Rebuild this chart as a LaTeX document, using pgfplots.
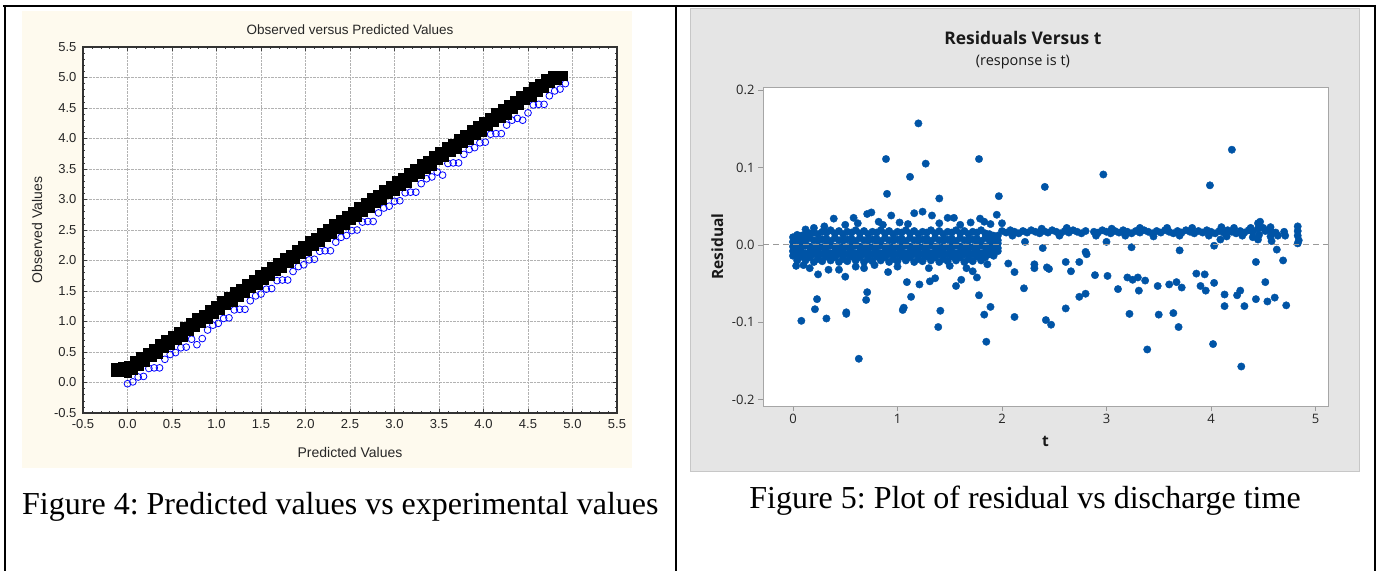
\documentclass[border=0pt]{standalone}
\usepackage{fontspec}
\usepackage{pgfplots}
\usepackage{pgfplotstable}
\pgfplotsset{compat=1.18}
\setmainfont{Liberation Serif}
\newfontfamily\arialf{Liberation Sans}
\newfontfamily\segoe{Open Sans}
\definecolor{cream}{RGB}{254,250,238}
\definecolor{mgray}{RGB}{229,229,229}
\definecolor{mblue}{RGB}{0,84,166}
\frenchspacing

% Left chart: black band (predicted, observed)
\pgfplotstableread{
x a b c
-0.14 0.16 0.21 0.26
-0.07 0.16 0.21 0.27
0.00 0.15 0.22 0.29
0.07 0.19 0.28 0.37
0.14 0.26 0.35 0.44
0.21 0.32 0.41 0.50
0.28 0.40 0.49 0.58
0.35 0.46 0.56 0.66
0.42 0.55 0.63 0.72
0.49 0.60 0.70 0.79
0.56 0.69 0.77 0.85
0.63 0.74 0.84 0.94
0.70 0.83 0.91 1.00
0.77 0.89 0.98 1.08
0.84 0.97 1.05 1.13
0.91 1.02 1.12 1.21
0.98 1.11 1.19 1.28
1.05 1.17 1.26 1.36
1.12 1.25 1.33 1.42
1.19 1.30 1.40 1.50
1.26 1.39 1.47 1.56
1.33 1.45 1.54 1.64
1.40 1.53 1.61 1.70
1.47 1.58 1.68 1.78
1.54 1.67 1.75 1.84
1.61 1.73 1.82 1.92
1.68 1.81 1.89 1.98
1.75 1.86 1.96 2.06
1.82 1.95 2.03 2.12
1.89 2.01 2.10 2.20
1.96 2.09 2.17 2.26
2.03 2.14 2.24 2.34
2.10 2.23 2.31 2.40
2.17 2.29 2.38 2.48
2.24 2.37 2.45 2.54
2.31 2.42 2.52 2.62
2.38 2.51 2.59 2.68
2.45 2.57 2.66 2.76
2.52 2.65 2.73 2.82
2.59 2.70 2.80 2.90
2.66 2.79 2.87 2.96
2.73 2.85 2.94 3.04
2.80 2.93 3.01 3.10
2.87 2.98 3.08 3.18
2.94 3.07 3.15 3.24
3.01 3.13 3.22 3.32
3.08 3.21 3.29 3.38
3.15 3.26 3.36 3.46
3.22 3.35 3.43 3.52
3.29 3.41 3.50 3.60
3.36 3.49 3.57 3.66
3.43 3.54 3.64 3.74
3.50 3.63 3.71 3.80
3.57 3.69 3.78 3.88
3.64 3.77 3.85 3.94
3.71 3.82 3.92 4.02
3.78 3.91 3.99 4.08
3.85 3.97 4.06 4.16
3.92 4.05 4.13 4.22
3.99 4.10 4.20 4.30
4.06 4.19 4.27 4.36
4.13 4.25 4.34 4.44
4.20 4.33 4.41 4.50
4.27 4.38 4.48 4.58
4.34 4.47 4.55 4.64
4.41 4.53 4.62 4.72
4.48 4.61 4.69 4.78
4.55 4.66 4.76 4.86
4.62 4.75 4.83 4.92
4.69 4.81 4.90 5.00
4.76 4.89 4.97 5.05
4.83 4.95 5.03 5.05
4.90 5.01 5.05 5.05
}\obsblack

% Left chart: blue circles
\pgfplotstableread{
x y
0.00 -0.02
0.06 0.01
0.12 0.09
0.18 0.10
0.24 0.23
0.30 0.24
0.36 0.24
0.42 0.38
0.48 0.46
0.54 0.49
0.60 0.57
0.66 0.58
0.72 0.71
0.78 0.62
0.84 0.72
0.90 0.86
0.96 0.94
1.02 0.97
1.08 1.05
1.14 1.06
1.20 1.19
1.26 1.20
1.32 1.20
1.38 1.34
1.44 1.42
1.50 1.45
1.56 1.53
1.62 1.54
1.68 1.67
1.74 1.68
1.80 1.68
1.86 1.82
1.92 1.90
1.98 1.93
2.04 2.01
2.10 2.02
2.16 2.15
2.22 2.16
2.28 2.16
2.34 2.30
2.40 2.38
2.46 2.41
2.52 2.49
2.58 2.50
2.64 2.63
2.70 2.64
2.76 2.64
2.82 2.78
2.88 2.86
2.94 2.89
3.00 2.97
3.06 2.98
3.12 3.11
3.18 3.12
3.24 3.12
3.30 3.26
3.36 3.34
3.42 3.37
3.48 3.45
3.54 3.40
3.60 3.59
3.66 3.60
3.72 3.60
3.78 3.74
3.84 3.82
3.90 3.85
3.96 3.93
4.02 3.94
4.08 4.07
4.14 4.08
4.20 4.08
4.26 4.22
4.32 4.30
4.38 4.33
4.44 4.30
4.50 4.42
4.56 4.55
4.62 4.56
4.68 4.56
4.74 4.70
4.80 4.78
4.86 4.81
4.92 4.90
}\obsblue

% Right chart: dense band t < 2
\pgfplotstableread{
t a b c d e
0.00 -0.014 -0.008 -0.002 0.004 0.010
0.04 -0.020 -0.011 -0.003 0.006 0.013
0.08 -0.015 -0.008 0.000 0.008 0.012
0.12 -0.020 -0.011 -0.001 0.005 0.014
0.16 -0.016 -0.009 -0.002 0.009 0.015
0.20 -0.022 -0.012 -0.004 0.006 0.016
0.24 -0.018 -0.010 -0.002 0.006 0.014
0.28 -0.021 -0.012 -0.003 0.007 0.017
0.32 -0.015 -0.008 0.000 0.008 0.016
0.36 -0.020 -0.011 -0.001 0.005 0.019
0.40 -0.016 -0.009 -0.002 0.009 0.015
0.44 -0.022 -0.012 -0.004 0.006 0.018
0.48 -0.018 -0.010 -0.002 0.006 0.014
0.52 -0.021 -0.012 -0.003 0.007 0.017
0.56 -0.015 -0.008 0.000 0.008 0.016
0.60 -0.020 -0.011 -0.001 0.005 0.019
0.64 -0.016 -0.009 -0.002 0.009 0.015
0.68 -0.022 -0.012 -0.004 0.006 0.018
0.72 -0.018 -0.010 -0.002 0.006 0.014
0.76 -0.021 -0.012 -0.003 0.007 0.017
0.80 -0.015 -0.008 0.000 0.008 0.016
0.84 -0.020 -0.011 -0.001 0.005 0.019
0.88 -0.016 -0.009 -0.002 0.009 0.015
0.92 -0.022 -0.012 -0.004 0.006 0.018
0.96 -0.018 -0.010 -0.002 0.006 0.014
1.00 -0.021 -0.012 -0.003 0.007 0.017
1.04 -0.015 -0.008 0.000 0.008 0.016
1.08 -0.020 -0.011 -0.001 0.005 0.019
1.12 -0.016 -0.009 -0.002 0.009 0.015
1.16 -0.022 -0.012 -0.004 0.006 0.018
1.20 -0.018 -0.010 -0.002 0.006 0.014
1.24 -0.021 -0.012 -0.003 0.007 0.017
1.28 -0.015 -0.008 0.000 0.008 0.016
1.32 -0.020 -0.011 -0.001 0.005 0.019
1.36 -0.016 -0.009 -0.002 0.009 0.015
1.40 -0.022 -0.012 -0.004 0.006 0.018
1.44 -0.018 -0.010 -0.002 0.006 0.014
1.48 -0.021 -0.012 -0.003 0.007 0.017
1.52 -0.015 -0.008 0.000 0.008 0.016
1.56 -0.020 -0.011 -0.001 0.005 0.019
1.60 -0.016 -0.009 -0.002 0.009 0.015
1.64 -0.022 -0.012 -0.004 0.006 0.018
1.68 -0.018 -0.010 -0.002 0.006 0.014
1.72 -0.021 -0.012 -0.003 0.007 0.017
1.76 -0.015 -0.008 0.000 0.008 0.016
1.80 -0.020 -0.011 -0.001 0.005 0.019
1.84 -0.016 -0.009 -0.002 0.009 0.015
1.88 -0.012 -0.006 -0.002 0.006 0.014
1.92 -0.014 -0.008 0.000 0.008 0.012
1.96 -0.008 -0.004 0.002 0.006 0.012
}\resband

% Right chart: band t >= 2 and scattered residuals
\pgfplotstableread{
t r
2.00 0.018
2.04 0.016
2.08 0.019
2.12 0.017
2.16 0.015
2.20 0.018
2.24 0.016
2.28 0.019
2.32 0.017
2.36 0.015
2.40 0.018
2.44 0.016
2.48 0.019
2.52 0.017
2.56 0.015
2.60 0.018
2.64 0.016
2.68 0.019
2.72 0.017
2.76 0.015
2.80 0.018
2.88 0.017
2.92 0.016
2.96 0.019
3.00 0.017
3.04 0.015
3.08 0.018
3.12 0.016
3.16 0.019
3.20 0.017
3.24 0.015
3.28 0.018
3.32 0.016
3.36 0.019
3.40 0.017
3.44 0.015
3.48 0.018
3.52 0.016
3.56 0.019
3.60 0.017
3.64 0.015
3.68 0.018
3.72 0.016
3.76 0.019
3.80 0.017
3.84 0.015
3.88 0.018
3.92 0.016
3.96 0.019
4.00 0.017
4.04 0.015
4.08 0.018
4.12 0.016
4.16 0.019
4.20 0.017
4.24 0.015
4.28 0.018
4.32 0.016
4.36 0.019
4.40 0.017
2.10 0.012
2.38 0.021
2.55 0.012
2.62 0.022
2.90 0.012
3.05 0.021
3.18 0.012
3.32 0.022
3.45 0.011
3.58 0.022
3.70 0.012
3.82 0.022
3.98 0.012
4.10 0.023
4.15 0.011
4.22 0.022
4.30 0.012
4.38 0.022
4.40 0.010
4.45 0.028
4.45 0.021
4.46 0.013
4.45 0.007
4.47 0.030
4.50 0.022
4.52 0.018
4.57 0.023
4.58 0.017
4.57 0.011
4.58 0.005
4.62 0.016
4.64 0.012
4.70 0.017
4.71 0.012
4.83 0.024
4.83 0.018
4.83 0.012
4.84 0.006
4.83 0.002
0.30 0.024
0.39 0.034
0.58 0.035
0.71 0.040
0.75 0.042
0.94 0.038
1.16 0.041
1.24 0.043
1.33 0.038
1.48 0.035
1.54 0.035
1.79 0.034
1.95 0.039
1.89 0.027
2.00 0.028
0.50 0.026
0.62 0.028
0.82 0.030
0.86 0.026
1.02 0.029
1.10 0.027
1.40 0.028
1.60 0.026
1.70 0.029
1.83 0.030
0.20 0.022
0.12 0.020
0.03 -0.027
0.10 -0.026
0.24 -0.038
0.34 -0.032
0.44 -0.032
0.50 -0.041
0.60 -0.028
0.78 -0.026
0.91 -0.035
1.00 -0.028
1.09 -0.048
1.21 -0.051
1.31 -0.047
1.36 -0.043
1.50 -0.027
1.56 -0.053
1.61 -0.045
1.72 -0.034
1.76 -0.042
1.66 -0.030
1.86 -0.025
1.30 -0.030
0.68 -0.030
0.16 -0.030
0.08 -0.098
0.23 -0.070
0.21 -0.083
0.32 -0.095
0.51 -0.087
0.51 -0.089
0.63 -0.147
0.71 -0.061
0.70 -0.071
1.13 -0.067
1.05 -0.084
1.06 -0.081
1.41 -0.085
1.39 -0.106
1.78 -0.065
1.83 -0.090
1.89 -0.080
1.85 -0.125
2.06 -0.024
2.12 -0.035
2.21 -0.056
2.12 -0.093
2.31 -0.025
2.31 -0.030
2.22 0.004
2.39 -0.004
2.43 -0.029
2.45 -0.031
2.42 -0.097
2.47 -0.103
2.61 -0.022
2.66 -0.034
2.61 -0.082
2.74 -0.022
2.74 -0.067
2.80 -0.063
2.80 -0.009
2.81 -0.012
2.89 -0.039
3.00 0.004
3.01 -0.040
3.11 -0.057
3.20 -0.042
3.25 -0.045
3.30 -0.042
3.22 -0.089
3.24 -0.003
3.31 -0.059
3.37 -0.046
3.39 -0.135
3.49 -0.053
3.50 -0.090
3.60 -0.051
3.67 -0.048
3.72 -0.055
3.64 -0.088
3.69 -0.106
3.70 -0.007
3.86 -0.037
3.94 -0.038
3.90 -0.053
3.95 -0.059
4.03 -0.049
4.02 -0.128
4.03 -0.001
4.09 0.007
4.13 -0.064
4.13 -0.079
4.25 -0.065
4.28 -0.059
4.32 -0.079
4.29 -0.157
4.43 -0.022
4.43 -0.070
4.52 -0.048
4.54 -0.073
4.61 -0.068
4.63 -0.006
4.69 -0.020
4.72 -0.078
1.20 0.157
0.89 0.111
1.27 0.105
1.12 0.088
1.78 0.111
0.90 0.066
1.40 0.060
1.97 0.063
2.41 0.075
2.97 0.091
3.99 0.077
4.20 0.123
}\resrest

\begin{document}
\begin{tikzpicture}[x=1pt,y=1pt]
\useasboundingbox (0,0) rectangle (1380,571);
% panel backgrounds
\fill[cream] (22,103) rectangle (632,560);
\fill[mgray] (690,100) rectangle (1359,563);
\draw[black!22, line width=0.8pt] (690,100) rectangle (1359,563);

% ---------------- Left chart ----------------
\begin{axis}[
  at={(83pt,158pt)}, anchor=south west, scale only axis,
  width=534pt, height=366pt,
  xmin=-0.5, xmax=5.5, ymin=-0.5, ymax=5.5,
  xtick distance=0.5, ytick distance=0.5,
  minor tick num=4,
  tick align=inside,
  major tick length=4pt, minor tick length=2pt,
  tick style={black!75, line width=0.6pt},
  axis line style={black!80, line width=1.1pt},
  axis background/.style={fill=white},
  grid=major,
  major grid style={densely dotted, black!30, line width=0.7pt},
  /pgf/number format/.cd, fixed, fixed zerofill, precision=1, assume math mode=true,
  /pgfplots/.cd,
  ticklabel style={font=\arialf\fontsize{13}{15}\selectfont, text=black!85},
  yticklabel style={xshift=-3pt},
  xticklabel style={yshift=-3pt},
  title={Observed versus Predicted Values},
  title style={font=\arialf\fontsize{13.5}{15}\selectfont, text=black!85, at={(axis description cs:0.5,1.030)}, anchor=center, yshift=0pt},
  xlabel={Predicted Values},
  ylabel={Observed Values},
  label style={font=\arialf\fontsize{14}{16}\selectfont, text=black!85},
  xlabel style={at={(axis description cs:0.5,-0.109)}, anchor=center},
  ylabel style={at={(axis description cs:-0.086,0.5)}, anchor=center},
]
\addplot[only marks, mark=o, mark size=3.4pt, blue, line width=0.8pt] table[x=x,y=y]{\obsblue};
\addplot[only marks, mark=square*, mark size=3.4pt, black] table[x=x,y=a]{\obsblack};
\addplot[only marks, mark=square*, mark size=3.4pt, black] table[x=x,y=b]{\obsblack};
\addplot[only marks, mark=square*, mark size=3.4pt, black] table[x=x,y=c]{\obsblack};
\end{axis}

% ---------------- Right chart ----------------
\begin{axis}[
  at={(763pt,165pt)}, anchor=south west, scale only axis,
  width=565pt, height=319pt,
  clip mode=individual,
  xmin=-0.287, xmax=5.12, ymin=-0.208, ymax=0.204,
  xtick={0,1,2,3,4,5}, xticklabels={0,1,2,3,4,5},
  ytick={-0.2,-0.1,0,0.1,0.2}, yticklabels={-0.2,-0.1,0.0,0.1,0.2},
  xtick pos=bottom, ytick pos=left,
  tick align=outside, major tick length=5pt,
  tick style={black!40, line width=0.8pt},
  axis line style={black!35, line width=0.9pt},
  axis background/.style={fill=white},
  ticklabel style={font=\segoe\fontsize{13}{15}\selectfont, text=black!85},
  xlabel={t}, ylabel={Residual},
  label style={font=\segoe\bfseries\fontsize{15.5}{17}\selectfont, text=black!90},
  xlabel style={at={(axis description cs:0.5,-0.11)}, anchor=center},
  ylabel style={at={(axis description cs:-0.081,0.5)}, anchor=center},
]
\addplot[only marks, mark=*, mark size=3.7pt, mblue, mark options={fill=mblue, draw=mblue}] table[x=t,y=a]{\resband};
\addplot[only marks, mark=*, mark size=3.7pt, mblue, mark options={fill=mblue, draw=mblue}] table[x=t,y=b]{\resband};
\addplot[only marks, mark=*, mark size=3.7pt, mblue, mark options={fill=mblue, draw=mblue}] table[x=t,y=c]{\resband};
\addplot[only marks, mark=*, mark size=3.7pt, mblue, mark options={fill=mblue, draw=mblue}] table[x=t,y=d]{\resband};
\addplot[only marks, mark=*, mark size=3.7pt, mblue, mark options={fill=mblue, draw=mblue}] table[x=t,y=e]{\resband};
\addplot[only marks, mark=*, mark size=3.7pt, mblue, mark options={fill=mblue, draw=mblue}] table[x=t,y=r]{\resrest};
\addplot[black!40, line width=0.9pt, dash pattern=on 6pt off 4pt] coordinates {(-0.287,0) (5.12,0)};
\node[font=\segoe\bfseries\fontsize{17.4}{19}\selectfont, text=black!90] at (rel axis cs:0.46,1.1536) {Residuals Versus t};
\node[font=\segoe\fontsize{14.5}{16}\selectfont, text=black!90] at (rel axis cs:0.46,1.078) {(response is t)};
\end{axis}

% ---------------- Table frame and captions ----------------
\draw[line width=2.6pt] (3,565) -- (1376,565);
\draw[line width=2pt] (5,566) -- (5,0);
\draw[line width=2pt] (675.5,566) -- (675.5,0);
\draw[line width=2pt] (1374.7,566) -- (1374.7,0);
\node[anchor=base west, inner sep=0pt, font=\fontsize{32}{34}\selectfont] at (22,57) {Figure 4: Predicted values vs experimental values};
\node[anchor=base, inner sep=0pt, font=\fontsize{32}{34}\selectfont] at (1025,63) {Figure 5: Plot of residual vs discharge time};
\end{tikzpicture}
\end{document}
